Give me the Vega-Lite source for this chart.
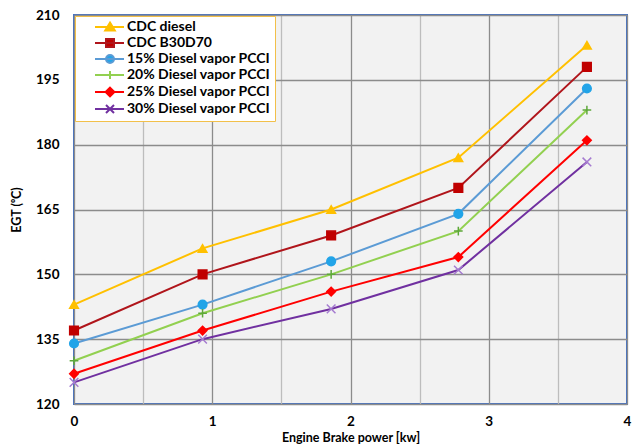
{
  "$schema": "https://vega.github.io/schema/vega-lite/v6.json",
  "autosize": {"type": "none"},
  "padding": {"left": 74, "top": 15, "right": 9, "bottom": 43},
  "width": 553,
  "height": 389,
  "background": "white",
  "config": {
    "font": "Lato",
    "view": {"fill": "#F2F2F2", "stroke": "#4472C4", "strokeWidth": 2},
    "axis": {
      "labelFont": "Lato", "labelFontWeight": "bold", "labelFontSize": 13.5, "labelColor": "#000000",
      "titleFont": "Lato", "titleFontWeight": "bold", "titleFontSize": 12.5, "titleColor": "#000000",
      "ticks": false, "domain": false, "gridOpacity": 1, "gridWidth": 1.3
    }
  },
  "data": {
    "values": [
      {"x": 0, "y": 143, "series": "CDC diesel"},
      {"x": 0.93, "y": 156, "series": "CDC diesel"},
      {"x": 1.86, "y": 165, "series": "CDC diesel"},
      {"x": 2.78, "y": 177, "series": "CDC diesel"},
      {"x": 3.71, "y": 203, "series": "CDC diesel"},
      {"x": 0, "y": 137, "series": "CDC B30D70"},
      {"x": 0.93, "y": 150, "series": "CDC B30D70"},
      {"x": 1.86, "y": 159, "series": "CDC B30D70"},
      {"x": 2.78, "y": 170, "series": "CDC B30D70"},
      {"x": 3.71, "y": 198, "series": "CDC B30D70"},
      {"x": 0, "y": 134, "series": "15% Diesel vapor PCCI"},
      {"x": 0.93, "y": 143, "series": "15% Diesel vapor PCCI"},
      {"x": 1.86, "y": 153, "series": "15% Diesel vapor PCCI"},
      {"x": 2.78, "y": 164, "series": "15% Diesel vapor PCCI"},
      {"x": 3.71, "y": 193, "series": "15% Diesel vapor PCCI"},
      {"x": 0, "y": 130, "series": "20% Diesel vapor PCCI"},
      {"x": 0.93, "y": 141, "series": "20% Diesel vapor PCCI"},
      {"x": 1.86, "y": 150, "series": "20% Diesel vapor PCCI"},
      {"x": 2.78, "y": 160, "series": "20% Diesel vapor PCCI"},
      {"x": 3.71, "y": 188, "series": "20% Diesel vapor PCCI"},
      {"x": 0, "y": 127, "series": "25% Diesel vapor PCCI"},
      {"x": 0.93, "y": 137, "series": "25% Diesel vapor PCCI"},
      {"x": 1.86, "y": 146, "series": "25% Diesel vapor PCCI"},
      {"x": 2.78, "y": 154, "series": "25% Diesel vapor PCCI"},
      {"x": 3.71, "y": 181, "series": "25% Diesel vapor PCCI"},
      {"x": 0, "y": 125, "series": "30% Diesel vapor PCCI"},
      {"x": 0.93, "y": 135, "series": "30% Diesel vapor PCCI"},
      {"x": 1.86, "y": 142, "series": "30% Diesel vapor PCCI"},
      {"x": 2.78, "y": 151, "series": "30% Diesel vapor PCCI"},
      {"x": 3.71, "y": 176, "series": "30% Diesel vapor PCCI"}
    ]
  },
  "encoding": {
    "x": {
      "field": "x", "type": "quantitative",
      "scale": {"domain": [0, 4], "nice": false, "zero": false},
      "axis": {
        "title": "Engine Brake power [kw]",
        "values": [0, 0.5, 1, 1.5, 2, 2.5, 3, 3.5, 4],
        "labelExpr": "datum.value % 1 === 0 ? format(datum.value, 'd') : ''",
        "gridColor": {"condition": {"test": "datum.value % 1 === 0", "value": "#8C8C8C"}, "value": "#BDBDBD"},
        "labelPadding": 10, "titlePadding": 4, "labelFlush": false
      }
    },
    "y": {
      "field": "y", "type": "quantitative",
      "scale": {"domain": [120, 210], "nice": false, "zero": false},
      "axis": {
        "title": "EGT (⁰C)",
        "values": [120, 135, 150, 165, 180, 195, 210],
        "gridColor": "#8C8C8C",
        "labelPadding": 15, "titlePadding": 12
      }
    }
  },
  "layer": [
    {
      "mark": {"type": "line", "strokeWidth": 2},
      "encoding": {
        "color": {
          "field": "series", "type": "nominal", "legend": null,
          "scale": {
            "domain": ["CDC diesel", "CDC B30D70", "15% Diesel vapor PCCI", "20% Diesel vapor PCCI", "25% Diesel vapor PCCI", "30% Diesel vapor PCCI"],
            "range": ["#FFC000", "#B0151B", "#5B9BD5", "#92D050", "#FF0000", "#7030A0"]
          }
        }
      }
    },
    {
      "mark": {"type": "point", "filled": true, "opacity": 1, "size": 75, "strokeWidth": 1.5},
      "encoding": {
        "shape": {
          "field": "series", "type": "nominal", "legend": null,
          "scale": {
            "domain": ["CDC diesel", "CDC B30D70", "15% Diesel vapor PCCI", "20% Diesel vapor PCCI", "25% Diesel vapor PCCI", "30% Diesel vapor PCCI"],
            "range": ["triangle-up", "square", "circle", "M-1,0L1,0M0,-1L0,1", "diamond", "M-1,-1L1,1M-1,1L1,-1"]
          }
        },
        "fill": {
          "field": "series", "type": "nominal", "legend": null,
          "scale": {
            "domain": ["CDC diesel", "CDC B30D70", "15% Diesel vapor PCCI", "20% Diesel vapor PCCI", "25% Diesel vapor PCCI", "30% Diesel vapor PCCI"],
            "range": ["#FFC000", "#C00000", "#22A4E8", "#5EA83A", "#FF0000", "#A57BD0"]
          }
        },
        "stroke": {
          "field": "series", "type": "nominal", "legend": null,
          "scale": {
            "domain": ["CDC diesel", "CDC B30D70", "15% Diesel vapor PCCI", "20% Diesel vapor PCCI", "25% Diesel vapor PCCI", "30% Diesel vapor PCCI"],
            "range": ["#FFC000", "#C00000", "#22A4E8", "#5EA83A", "#FF0000", "#A57BD0"]
          }
        }
      }
    },
    {
      "mark": {"type": "point", "filled": true, "opacity": 0, "size": 64, "strokeWidth": 2},
      "encoding": {
        "shape": {
          "field": "series", "type": "nominal",
          "scale": {
            "domain": ["CDC diesel", "CDC B30D70", "15% Diesel vapor PCCI", "20% Diesel vapor PCCI", "25% Diesel vapor PCCI", "30% Diesel vapor PCCI"],
            "range": [
              "M2.25,0L9.5,0M6,-1.1L7.2,0.9L4.8,0.9Z",
              "M2.25,0L9.5,0M5,-1L7,-1L7,1L5,1Z",
              "M2.25,0L9.5,0M5,0A1,1 0 1,0 7,0A1,1 0 1,0 5,0Z",
              "M2.25,0L9.5,0M6,-1L6,1",
              "M2.25,0L9.5,0M6,-1.1L7.1,0L6,1.1L4.9,0Z",
              "M2.25,0L9.5,0M5,-1L7,1M5,1L7,-1"
            ]
          },
          "legend": {
            "title": null, "orient": "none", "legendX": 1, "legendY": 1,
            "fillColor": "white", "strokeColor": "#F2C04A", "padding": 4,
            "labelFont": "Lato", "labelFontWeight": "bold", "labelFontSize": 14, "labelColor": "#000000",
            "symbolSize": 64, "symbolOpacity": 1, "symbolStrokeWidth": 2,
            "labelOffset": 34, "rowPadding": 0, "labelLimit": 300
          }
        },
        "fill": {
          "field": "series", "type": "nominal",
          "scale": {
            "domain": ["CDC diesel", "CDC B30D70", "15% Diesel vapor PCCI", "20% Diesel vapor PCCI", "25% Diesel vapor PCCI", "30% Diesel vapor PCCI"],
            "range": ["#FFC000", "#C00000", "#22A4E8", "#5EA83A", "#FF0000", "#A57BD0"]
          },
          "legend": {"title": null}
        },
        "stroke": {
          "field": "series", "type": "nominal",
          "scale": {
            "domain": ["CDC diesel", "CDC B30D70", "15% Diesel vapor PCCI", "20% Diesel vapor PCCI", "25% Diesel vapor PCCI", "30% Diesel vapor PCCI"],
            "range": ["#FFC000", "#B0151B", "#5B9BD5", "#92D050", "#FF0000", "#7030A0"]
          },
          "legend": {"title": null}
        }
      }
    }
  ],
  "resolve": {"scale": {"shape": "independent", "fill": "independent", "stroke": "independent"}}
}
